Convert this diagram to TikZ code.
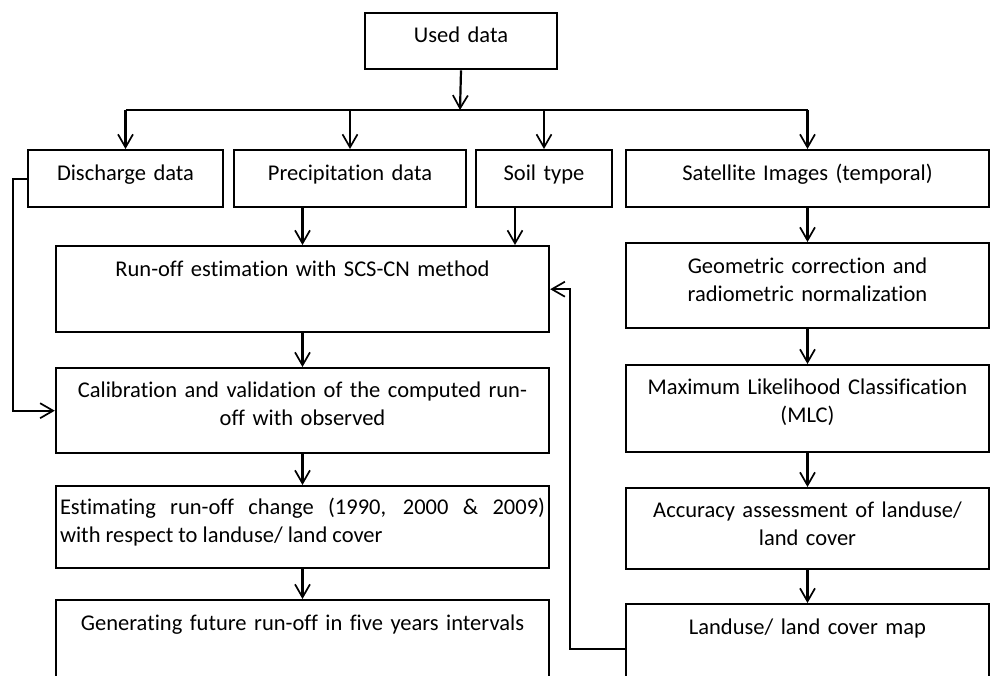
\documentclass[tikz,border=0pt]{standalone}
\usepackage{fontspec}
\setmainfont{Carlito}[Ligatures=NoCommon]
\usetikzlibrary{arrows.meta}

\tikzset{
  box/.style={draw, line width=2.4pt, inner xsep=4pt, inner ysep=0pt, anchor=north, align=center, text width=#1},
  arr/.style={-{Straight Barb[length=13pt,width=15pt,line width=1.7pt]}, line width=2.2pt},
}

\begin{document}
\begin{tikzpicture}[x=1pt,y=-1pt,font=\fontsize{22.5}{28}\selectfont]
  \useasboundingbox (0,0) rectangle (990,676);
  \clip (0,0) rectangle (990,676);

  % data sources
  \node[box=184pt, text height=29pt, text depth=27pt] (used) at (461,12) {Used data};
  \node[box=187pt, text height=30pt, text depth=27pt] (disch) at (125.5,149) {Discharge data};
  \node[box=224pt, text height=30pt, text depth=27pt] (precip) at (350,149) {Precipitation data};
  \node[box=128pt, text height=30pt, text depth=27pt] (soil) at (544,149) {Soil type};
  \node[box=355pt, text height=30pt, text depth=27pt] (sat) at (807.5,149) {Satellite Images (temporal)};

  % run-off column
  \node[box=485pt, text height=30pt, text depth=56pt] (runoff) at (302.5,245) {Run-off estimation with SCS-CN method};
  \node[box=485pt, text height=29pt, text depth=56pt] (calib) at (302.5,367) {Calibration and validation of the computed run-\\off with observed};
  \node[box=485pt, text height=28pt, text depth=54pt, align=justify] (estim) at (302.5,485) {Estimating run-off change (1990, 2000 \& 2009)\linebreak with respect to landuse/ land cover};
  \node[box=485pt, text height=30pt, text depth=71pt] (future) at (302.5,599) {Generating future run-off in five years intervals};

  % image column
  \node[box=355pt, text height=30pt, text depth=55pt] (geom) at (807.5,242) {Geometric correction and\\radiometric normalization};
  \node[box=355pt, text height=29pt, text depth=58pt] (mlc) at (807.5,364) {Maximum Likelihood Classification\\(MLC)};
  \node[box=355pt, text height=29pt, text depth=52pt] (accur) at (807.5,487) {Accuracy assessment of landuse/\\land cover};
  \node[box=355pt, text height=30pt, text depth=60pt] (lulc) at (807.5,603) {Landuse/ land cover map};

  % connectors
  \coordinate (bar) at (460,110);
  \draw[arr] (used.south) -- (bar);
  \draw[line width=2.2pt] (disch.north |- bar) -- (sat.north |- bar);
  \foreach \n in {disch,precip,soil,sat}
    \draw[arr] (\n.north |- bar) -- (\n.north);

  \draw[arr] (precip.south -| runoff.north) -- (runoff.north);
  \draw[arr] ([xshift=-29pt]soil.south) -- ([xshift=-29pt]soil.south |- runoff.north);
  \draw[arr] (sat.south) -- (geom.north);

  \draw[arr] (runoff.south) -- (calib.north);
  \draw[arr] (calib.south) -- (estim.north);
  \draw[arr] (estim.south) -- (future.north);

  \draw[arr] (geom.south) -- (mlc.north);
  \draw[arr] (mlc.south) -- (accur.north);
  \draw[arr] (accur.south) -- (lulc.north);

  \draw[arr] (lulc.west) -- ++(-55,0) |- (runoff.east);
  \draw[arr] (disch.west) -- ++(-14,0) |- (calib.west);
\end{tikzpicture}
\end{document}
